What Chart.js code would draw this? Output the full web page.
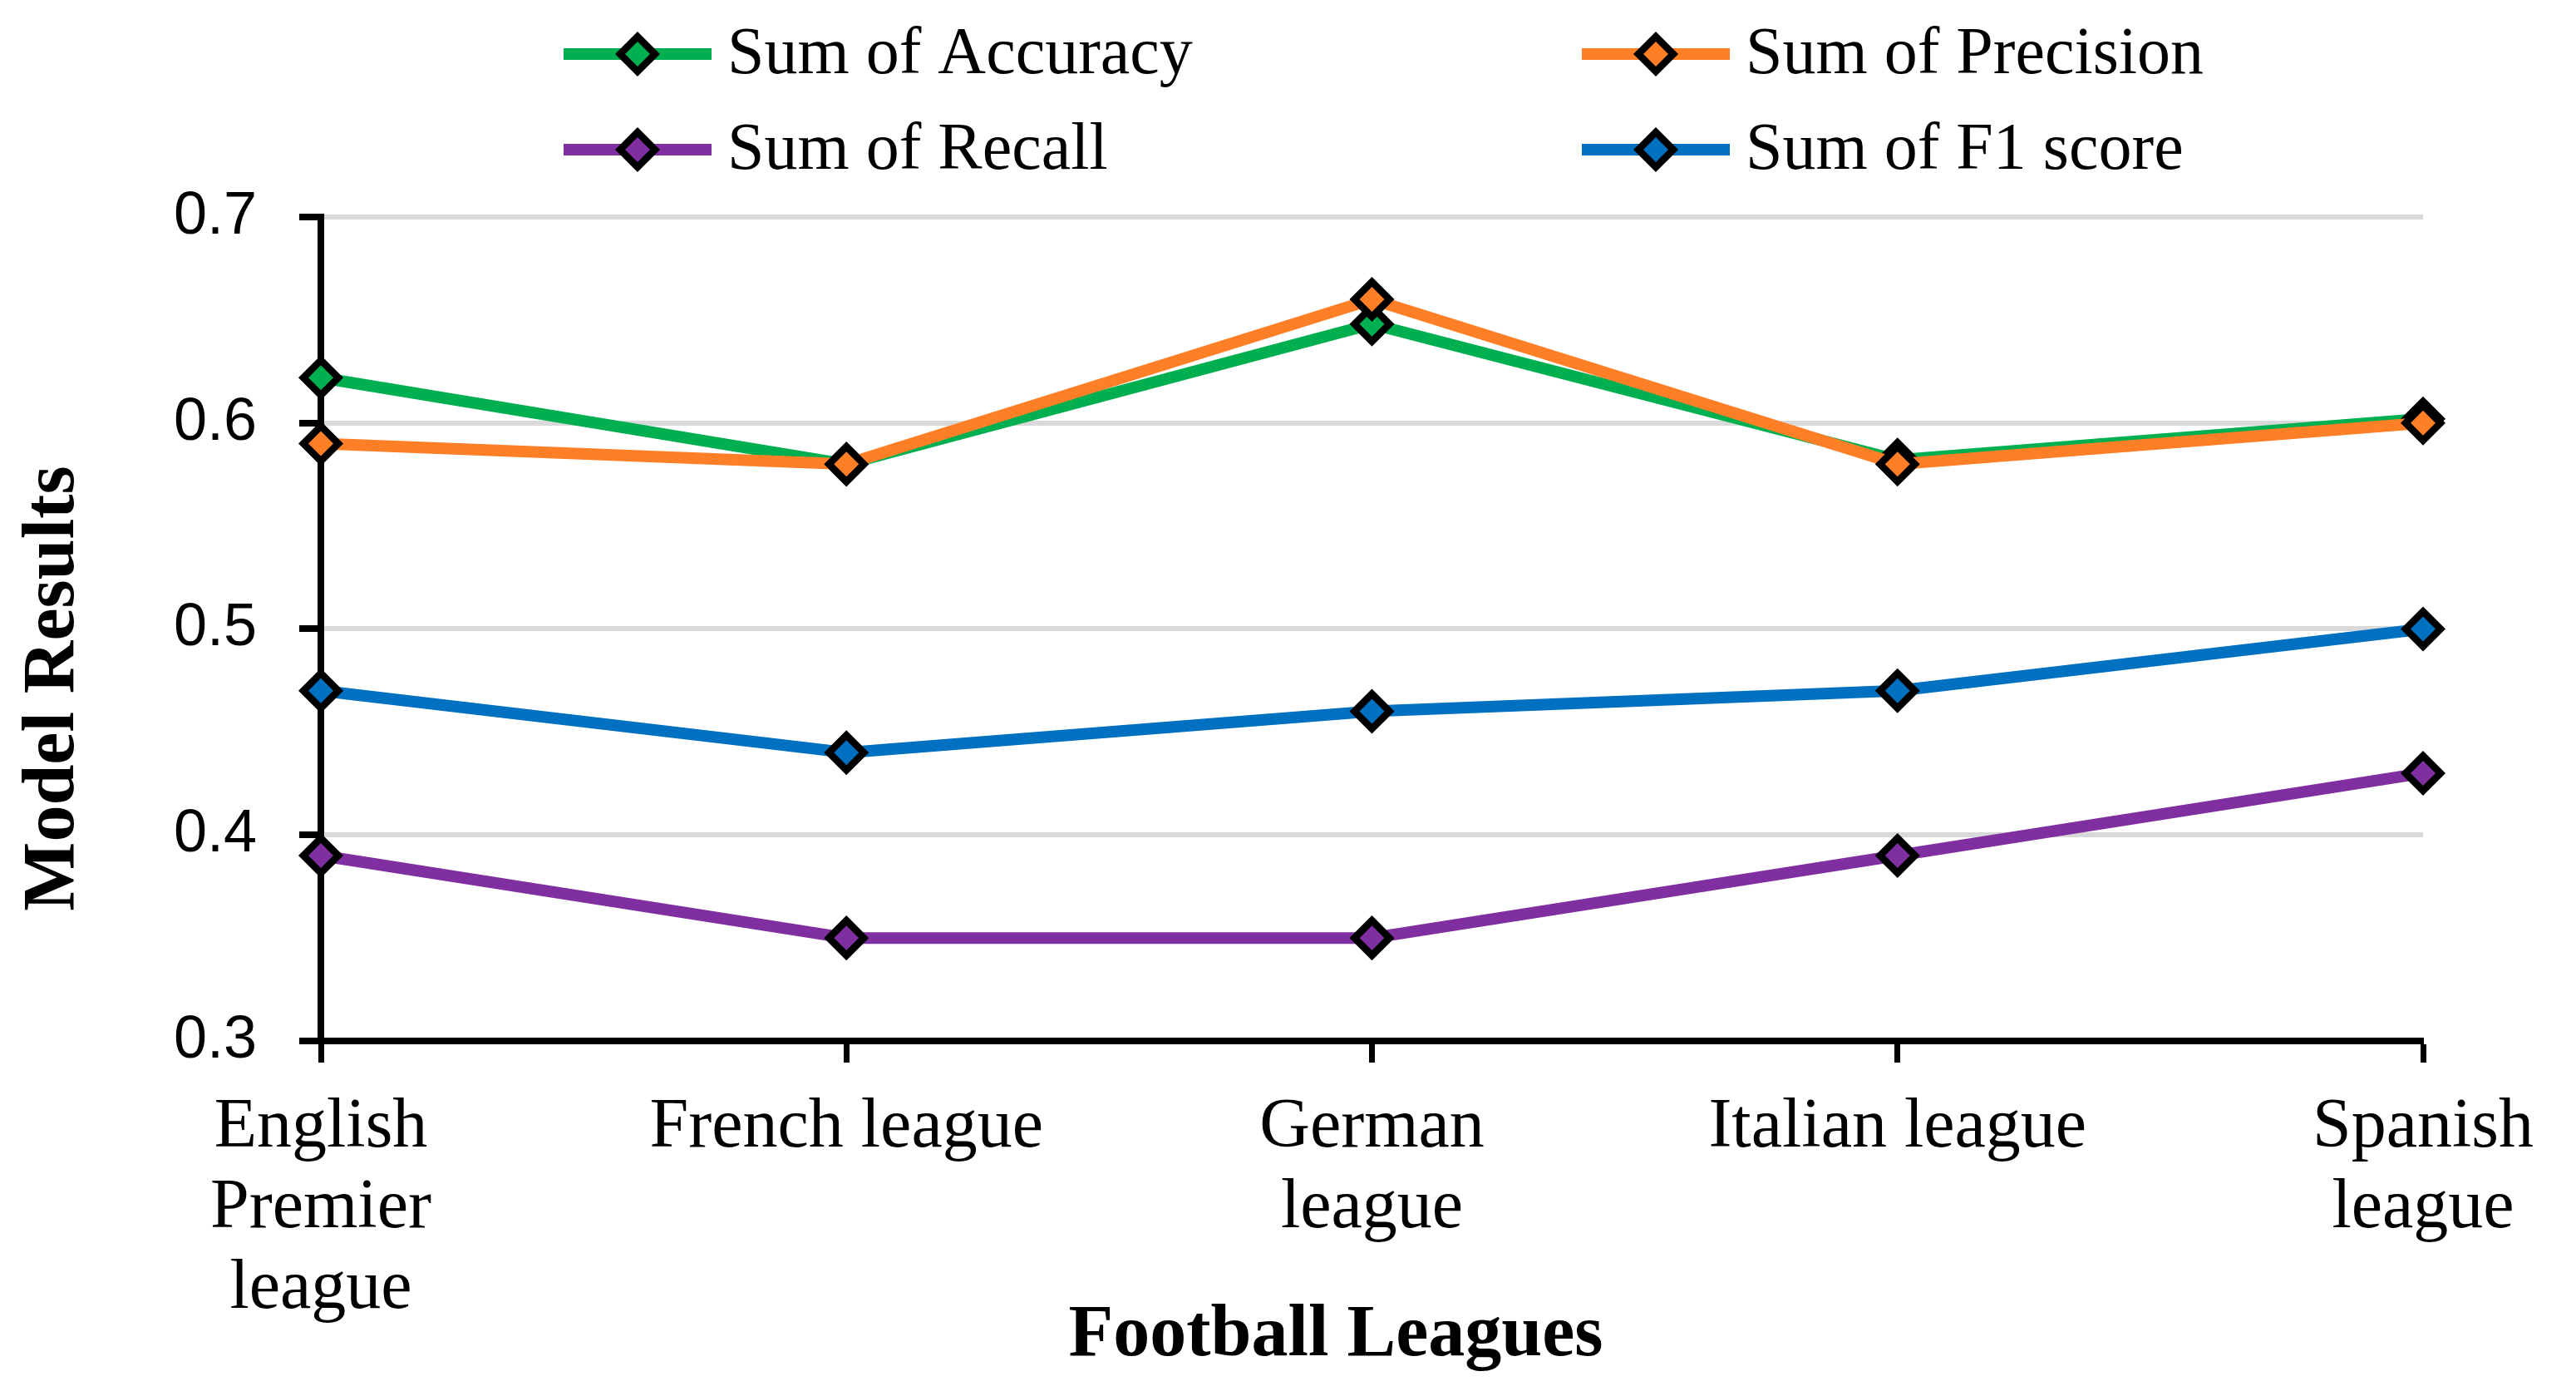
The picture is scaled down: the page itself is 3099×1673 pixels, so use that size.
<!DOCTYPE html>
<html>
<head>
<meta charset="utf-8">
<script src="https://cdn.jsdelivr.net/npm/chart.js@4.4.0/dist/chart.umd.min.js"></script>
<style>
  html, body { margin: 0; padding: 0; background: #fff; }
  #wrap { width: 3099px; height: 1673px; }
</style>
</head>
<body>
<div id="wrap"><canvas id="chart1"></canvas></div>
<script>
// values
const leagues = [['English', 'Premier', 'league'], 'French league', ['German', 'league'], 'Italian league', ['Spanish', 'league']];
const accuracy = [0.622, 0.58, 0.648, 0.582, 0.602];
const precision = [0.59, 0.58, 0.66, 0.58, 0.60];
const recall = [0.39, 0.35, 0.35, 0.39, 0.43];
const f1score = [0.47, 0.44, 0.46, 0.47, 0.50];
const yTicks = [0.3, 0.4, 0.5, 0.6, 0.7];
const xTitle = 'Football Leagues';
const yTitle = 'Model Results';

const serif = '"Liberation Serif", "Times New Roman", serif';

// legend in a 2x2 grid + axis titles placed like the original
const extras = {
    id: 'extras',
    afterDraw(chart) {
        const ctx = chart.ctx;
        const slots = [
            {label: 'Sum of Accuracy', x: 678, y: 65},
            {label: 'Sum of Precision', x: 1903, y: 65},
            {label: 'Sum of Recall', x: 678, y: 180},
            {label: 'Sum of F1 score', x: 1903, y: 180}
        ];
        slots.forEach(function(s) {
            const ds = chart.data.datasets.find(d => d.label === s.label);
            const cx = s.x + 89;
            ctx.save();
            ctx.strokeStyle = ds.borderColor;
            ctx.lineWidth = ds.borderWidth;
            ctx.beginPath();
            ctx.moveTo(s.x, s.y);
            ctx.lineTo(s.x + 178, s.y);
            ctx.stroke();
            ctx.fillStyle = ds.pointBackgroundColor;
            ctx.strokeStyle = ds.pointBorderColor;
            ctx.lineWidth = ds.pointBorderWidth;
            ctx.beginPath();
            ctx.moveTo(cx - ds.pointRadius, s.y);
            ctx.lineTo(cx, s.y - ds.pointRadius);
            ctx.lineTo(cx + ds.pointRadius, s.y);
            ctx.lineTo(cx, s.y + ds.pointRadius);
            ctx.closePath();
            ctx.fill();
            ctx.stroke();
            ctx.fillStyle = '#000';
            ctx.font = '80px ' + serif;
            ctx.textBaseline = 'middle';
            ctx.fillText(s.label, s.x + 197, s.y + 2);
            ctx.restore();
        });

        ctx.save();
        ctx.fillStyle = '#000';
        ctx.font = 'bold 88px ' + serif;
        ctx.textAlign = 'center';
        ctx.textBaseline = 'middle';
        ctx.fillText(xTitle, 1607, 1607);
        ctx.translate(65, 828);
        ctx.rotate(-Math.PI / 2);
        ctx.fillText(yTitle, 0, 0);
        ctx.restore();
    }
};

function series(label, data, color, order) {
    return {
        label: label,
        data: data,
        order: order,
        borderColor: color,
        borderWidth: 14,
        borderJoinStyle: 'round',
        pointStyle: 'rectRot',
        pointRadius: 21,
        pointHoverRadius: 21,
        pointBackgroundColor: color,
        pointBorderColor: '#000',
        pointBorderWidth: 8.5,
        tension: 0,
        fill: false
    };
}

var ctx = document.getElementById('chart1').getContext('2d');
var myChart = new Chart(ctx, {
    type: 'line',
    data: {
        labels: leagues,
        datasets: [
            series('Sum of Accuracy', accuracy, '#00B050', 1),
            series('Sum of Precision', precision, '#FF7F27', 0),
            series('Sum of Recall', recall, '#7F2FA0', 2),
            series('Sum of F1 score', f1score, '#0070C0', 3)
        ]
    },
    options: {
        responsive: true,
        maintainAspectRatio: false,
        animation: false,
        layout: {
            padding: {top: 261, right: 184, bottom: 0, left: 0}
        },
        plugins: {
            legend: {display: false},
            tooltip: {enabled: false}
        },
        scales: {
            x: {
                offset: false,
                afterFit: function(s) { s.height = 421; },
                grid: {
                    drawOnChartArea: false,
                    tickColor: '#000',
                    tickWidth: 7,
                    tickLength: 26
                },
                border: {color: '#000', width: 8},
                ticks: {
                    color: '#000',
                    padding: 30,
                    maxRotation: 0,
                    autoSkip: false,
                    font: {family: serif, size: 84, lineHeight: 1.155}
                }
            },
            y: {
                min: 0.3,
                max: 0.7,
                afterFit: function(s) { s.width = 386; },
                afterBuildTicks: function(s) { s.ticks = yTicks.map(v => ({value: v})); },
                grid: {
                    color: function(c) { return c.tick && c.tick.value === 0.3 ? 'rgba(0,0,0,0)' : '#D9D9D9'; },
                    lineWidth: 6,
                    tickColor: '#000',
                    tickWidth: 8,
                    tickLength: 26
                },
                border: {color: '#000', width: 8},
                ticks: {
                    color: '#000',
                    padding: 51,
                    font: {family: '"Liberation Sans", Arial, sans-serif', size: 72},
                    callback: function(v) { return v.toFixed(1); }
                }
            }
        }
    },
    plugins: [extras]
});
</script>
</body>
</html>
